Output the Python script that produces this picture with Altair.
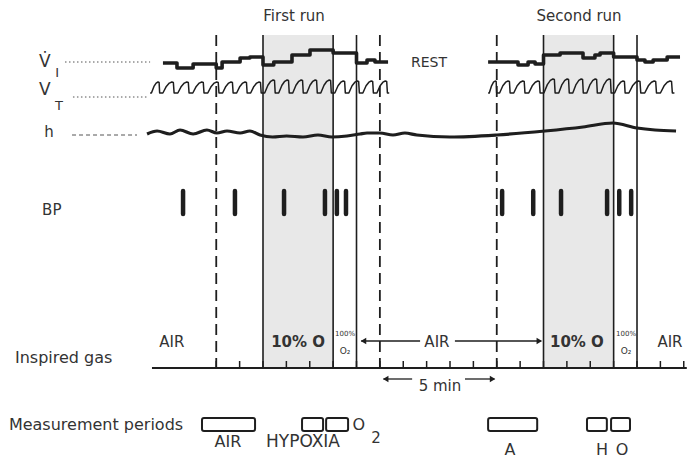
import altair as alt
import pandas as pd

# ---------------- data (time in minutes) ----------------
hypoxia_start = [2, 14]
hypoxia_end = [5, 17]
solid_lines = [2, 5, 6, 14, 17, 18]
dashed_lines = [0, 7, 12]
minute_ticks = list(range(0, 21))

# inspired ventilation (step trace, relative deflection upward)
vi1_t = [-2.28, -1.68, -0.99, 0.0, 0.25, 1.02, 1.44, 2.0, 2.46, 3.24, 4.01, 5.0, 6.0, 6.45, 6.79]
vi1_v = [5, 0, 4, 0, 6, 10, 11, 3, 6, 13, 18, 15, 5, 8, 6]
vi1_end = 7.35
vi2_t = [11.63, 12.91, 13.34, 13.64, 14.0, 14.71, 15.69, 16.2, 16.42, 17.0, 18.0, 18.34, 18.69, 19.29]
vi2_v = [6, 3, 6, 4, 13, 15, 10, 13, 15, 11, 8, 6, 8, 11]
vi2_end = 19.84

# tidal volume: breath end times and amplitudes
vt1_start = -2.83
vt1_drops = [-2.36, -1.72, -1.08, -0.44, 0.2, 0.8, 1.4, 2.0, 2.6, 3.2, 3.8, 4.4, 5.0, 5.6, 6.2, 6.8, 7.4]
vt1_amp = [11, 11, 11, 11, 11, 11, 11, 11, 13, 13, 13, 13, 13, 12, 12, 12, 12]
vt2_start = 11.63
vt2_drops = [12.05, 12.65, 13.29, 13.94, 14.58, 15.18, 15.78, 16.38, 16.97, 17.57, 18.25, 18.92, 19.6]
vt2_amp = [12, 12, 12, 12, 14, 14, 14, 14, 14, 12, 12, 12, 12]

# h trace (relative deflection upward)
h_t = [-2.96, -2.53, -1.98, -1.55, -0.99, -0.40, 0.03, 0.46, 1.02, 1.44, 1.87, 2.41, 3.01, 3.71,
       4.35, 4.95, 5.59, 6.15, 6.45, 7.0, 7.56, 8.07, 8.58, 10.0, 12.01, 14.06, 15.69, 16.97,
       18.0, 18.77, 19.67]
h_v = [6, 9, 6, 10, 6, 10, 7, 9, 7, 9, 5, 3, 4, 3, 5, 3, 4, 6, 7, 7, 5, 7, 5, 3, 5, 9, 13, 17,
       12, 10, 9]

# blood pressure measurement times
bp_t = [-1.42, 0.80, 2.90, 4.65, 5.16, 5.55, 12.23, 13.56, 14.75, 16.72, 17.24, 17.75]

# measurement periods (start, end)
meas_start = [-0.61, 3.67, 4.70, 11.63, 15.86, 16.89]
meas_end = [1.66, 4.57, 5.64, 13.73, 16.71, 17.70]

# ---------------- layout (vertical positions in page pixels) ----------------
TOP, AXIS_Y = 35, 368
VI_BASE, VT_BASE, H_BASE = 68, 93, 140
INK = "#1e1e1e"
TXT = "#333333"
FONT = "DejaVu Sans"

XS = alt.Scale(domain=[-8.909, 20.267], nice=False, zero=False)
YS = alt.Scale(domain=[8, 452], reverse=True, nice=False, zero=False)


def X(f):
    return alt.X(f, type="quantitative", scale=XS, axis=None)


def X2(f):
    return alt.X2(f)


def Y(f):
    return alt.Y(f, type="quantitative", scale=YS, axis=None)


def Y2(f):
    return alt.Y2(f)


layers = []

# shading
shade = pd.DataFrame({"a": hypoxia_start, "b": hypoxia_end, "y0": TOP, "y1": AXIS_Y})
layers.append(alt.Chart(shade).mark_rect(color="#e8e8e8").encode(
    x=X("a"), x2=X2("b"), y=Y("y0"), y2=Y2("y1")))

# vertical lines
sl = pd.DataFrame({"t": solid_lines, "y0": TOP, "y1": AXIS_Y})
layers.append(alt.Chart(sl).mark_rule(color=INK, strokeWidth=1.6).encode(
    x=X("t"), y=Y("y0"), y2=Y2("y1")))
dl = pd.DataFrame({"t": dashed_lines, "y0": TOP, "y1": AXIS_Y})
layers.append(alt.Chart(dl).mark_rule(color=INK, strokeWidth=1.8, strokeDash=[11, 6]).encode(
    x=X("t"), y=Y("y0"), y2=Y2("y1")))

# VI step traces
vi_rows = []
for seg, (ts, vs, end) in enumerate([(vi1_t, vi1_v, vi1_end), (vi2_t, vi2_v, vi2_end)]):
    for i, (t, v) in enumerate(zip(ts, vs)):
        vi_rows.append({"seg": seg, "i": i, "t": t, "y": VI_BASE - v})
    vi_rows.append({"seg": seg, "i": len(ts), "t": end, "y": VI_BASE - vs[-1]})
layers.append(alt.Chart(pd.DataFrame(vi_rows)).mark_line(
    color=INK, strokeWidth=3.6, interpolate="step-after", strokeJoin="round").encode(
    x=X("t"), y=Y("y"), detail="seg:N", order="i:Q"))

# VT breathing traces: slanted rise, rounded crest, near-vertical fall
shape_pts = [(0, 0), (0.12, 0), (0.35, 0.6), (0.55, 0.9), (0.72, 1.0), (0.82, 0.96), (0.87, 0)]
vt_rows = []
for seg, (st, drops, amps) in enumerate([(vt1_start, vt1_drops, vt1_amp),
                                         (vt2_start, vt2_drops, vt2_amp)]):
    p0 = st
    k = 0
    for p1, a in zip(drops, amps):
        P = p1 - p0
        for f, g in shape_pts:
            vt_rows.append({"seg": seg, "i": k, "t": p0 + f * P, "y": VT_BASE - a * g})
            k += 1
        p0 = p1
    vt_rows.append({"seg": seg, "i": k, "t": p0, "y": VT_BASE})
layers.append(alt.Chart(pd.DataFrame(vt_rows)).mark_line(
    color=INK, strokeWidth=1.5, strokeJoin="round").encode(
    x=X("t"), y=Y("y"), detail="seg:N", order="i:Q"))

# h trace
hdf = pd.DataFrame({"t": h_t, "y": [H_BASE - v for v in h_v]})
layers.append(alt.Chart(hdf).mark_line(
    color=INK, strokeWidth=3.2, interpolate="monotone").encode(x=X("t"), y=Y("y")))

# BP marks
bp = pd.DataFrame({"t": bp_t, "y0": 191, "y1": 214})
layers.append(alt.Chart(bp).mark_rule(color=INK, strokeWidth=4.5, strokeCap="round").encode(
    x=X("t"), y=Y("y0"), y2=Y2("y1")))

# leader lines on the left
lead = pd.DataFrame({"a": [-6.47, -6.13], "b": [-2.83, -2.96], "y": [62, 97]})
layers.append(alt.Chart(lead).mark_rule(color="#555", strokeWidth=1, strokeDash=[1.5, 2.5]).encode(
    x=X("a"), x2=X2("b"), y=Y("y")))
lead_h = pd.DataFrame({"a": [-6.17], "b": [-3.39], "y": [135]})
layers.append(alt.Chart(lead_h).mark_rule(color="#555", strokeWidth=1, strokeDash=[4, 3]).encode(
    x=X("a"), x2=X2("b"), y=Y("y")))

# time axis
ax = pd.DataFrame({"a": [-2.75], "b": [20.13], "y": [AXIS_Y]})
layers.append(alt.Chart(ax).mark_rule(color=INK, strokeWidth=2).encode(
    x=X("a"), x2=X2("b"), y=Y("y")))
tk = pd.DataFrame({"t": minute_ticks, "y0": AXIS_Y - 7, "y1": AXIS_Y})
layers.append(alt.Chart(tk).mark_rule(color=INK, strokeWidth=1.5).encode(
    x=X("t"), y=Y("y0"), y2=Y2("y1")))

# arrows
arr = pd.DataFrame({"a": [6.2, 10.21, 7.15, 10.64], "b": [8.72, 13.9, 8.38, 11.9],
                    "y": [341, 341, 379, 379]})
layers.append(alt.Chart(arr).mark_rule(color=INK, strokeWidth=1.3).encode(
    x=X("a"), x2=X2("b"), y=Y("y")))
heads = pd.DataFrame({"t": [6.3, 13.82, 7.25, 11.82], "y": [341, 341, 379, 379],
                      "s": ["triangle-left", "triangle-right", "triangle-left", "triangle-right"]})
layers.append(alt.Chart(heads).mark_point(filled=True, color=INK, size=40, opacity=1).encode(
    x=X("t"), y=Y("y"), shape=alt.Shape("s:N", scale=None)))

# measurement period boxes
mb = pd.DataFrame({"a": meas_start, "b": meas_end, "y0": 418, "y1": 431})
layers.append(alt.Chart(mb).mark_rect(fill="white", stroke=INK, strokeWidth=2,
                                      cornerRadius=2).encode(
    x=X("a"), x2=X2("b"), y=Y("y0"), y2=Y2("y1")))


def texts(rows, **kw):
    df = pd.DataFrame(rows, columns=["t", "y", "txt"])
    base = dict(font=FONT, color=TXT, baseline="alphabetic", align="center")
    base.update(kw)
    return alt.Chart(df).mark_text(**base).encode(x=X("t"), y=Y("y"), text="txt:N")


layers.append(texts([(3.33, 21, "First run"), (15.52, 21, "Second run")], fontSize=15))
layers.append(texts([(9.1, 67, "REST")], fontSize=14))
layers.append(texts([(-7.33, 67, "V\u0307"), (-7.33, 95, "V")], fontSize=17))
layers.append(texts([(-6.81, 77, "I"), (-6.73, 110, "T")], fontSize=13))
layers.append(texts([(-7.16, 137, "h")], fontSize=15))
layers.append(texts([(-7.45, 215, "BP")], fontSize=15, align="left"))
layers.append(texts([(-1.9, 347, "AIR"), (9.44, 347, "AIR"), (19.41, 347, "AIR")], fontSize=15))
layers.append(texts([(3.5, 347, "10% O"), (15.43, 347, "10% O")], fontSize=15, fontWeight="bold"))
layers.append(texts([(5.51, 336, "100%"), (17.53, 336, "100%")], fontSize=7))
layers.append(texts([(5.51, 354, "O\u2082"), (17.53, 354, "O\u2082")], fontSize=9))
layers.append(texts([(-8.61, 363, "Inspired gas")], fontSize=16, align="left"))
layers.append(texts([(9.57, 391, "5 min")], fontSize=15))
layers.append(texts([(-8.87, 430, "Measurement periods")], fontSize=16, align="left"))
layers.append(texts([(0.5, 447, "AIR"), (6.1, 430, "O"),
                     (12.57, 455, "A"), (16.5, 455, "H"), (17.36, 455, "O")], fontSize=16))
layers.append(texts([(3.71, 447, "HYPOXIA")], fontSize=17))
layers.append(texts([(6.84, 443, "2")], fontSize=15))

chart = alt.layer(*layers).properties(width=682, height=444, padding=0).configure_view(
    stroke=None)

chart.save("out.html", embed_options={"renderer": "svg", "actions": False})
